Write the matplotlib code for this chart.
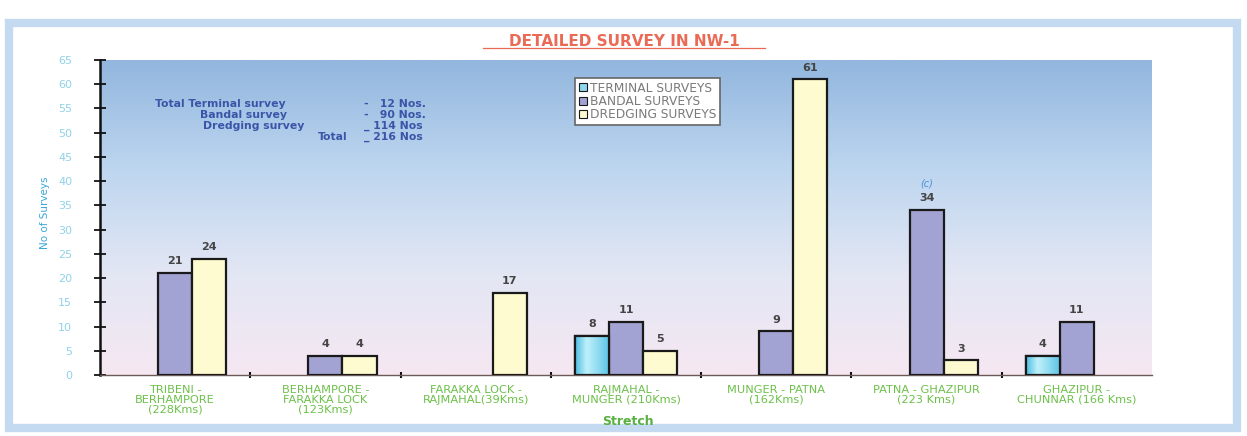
import matplotlib.pyplot as plt
import numpy as np
from matplotlib.colors import LinearSegmentedColormap
from matplotlib.patches import Rectangle

# survey counts per stretch
stretches = ['TRIBENI -\nBERHAMPORE\n(228Kms)',
             'BERHAMPORE -\nFARAKKA LOCK\n(123Kms)',
             'FARAKKA LOCK -\nRAJMAHAL(39Kms)',
             'RAJMAHAL -\nMUNGER (210Kms)',
             'MUNGER - PATNA\n(162Kms)',
             'PATNA - GHAZIPUR\n(223 Kms)',
             'GHAZIPUR -\nCHUNNAR (166 Kms)']
terminal = [0, 0, 0, 8, 0, 0, 4]
bandal = [21, 4, 0, 11, 9, 34, 11]
dredging = [24, 4, 17, 5, 61, 3, 0]

summary_names = ['Total Terminal survey', 'Bandal survey', 'Dredging survey', 'Total']
summary_vals = ['-   12 Nos.', '-   90 Nos.', '_ 114 Nos', '_ 216 Nos']

W, H = 1247, 436
fig = plt.figure(figsize=(W / 100, H / 100), dpi=100)
fig.patch.set_facecolor('white')

def fx(x):
    return x / W

def fy(y):
    return 1 - y / H

# light blue frame round the whole chart
frame = Rectangle((fx(9), fy(428)), fx(1237) - fx(9), fy(23) - fy(428),
                  transform=fig.transFigure, fill=False,
                  edgecolor='#c4daf1', linewidth=6, zorder=0)
fig.add_artist(frame)

ax = fig.add_axes([fx(100), fy(375), fx(1152) - fx(100), fy(60) - fy(375)])
ax.set_xlim(-0.5, len(stretches) - 0.5)
ax.set_ylim(0, 65)

# sky-like background gradient
bg = LinearSegmentedColormap.from_list('bg', ['#f6e8f2', '#e2e6f4', '#bcd5ef', '#92b6de'])
grad = np.linspace(0, 1, 256).reshape(-1, 1)
ax.imshow(grad, cmap=bg, origin='lower', aspect='auto',
          extent=[-0.5, len(stretches) - 0.5, 0, 65], zorder=0)

x = np.arange(len(stretches))
w = 0.227
cyl = LinearSegmentedColormap.from_list('cyl', ['#4fbfe2', '#bff0fb', '#8fdbf0', '#58c3e4'])
series = [(terminal, -w, '#8fd9ef', 'TERMINAL SURVEYS'),
          (bandal, 0, '#a3a3d3', 'BANDAL SURVEYS'),
          (dredging, w, '#fdfbcf', 'DREDGING SURVEYS')]

for vals, off, color, name in series:
    v = np.array(vals, dtype=float)
    hv = np.where(v > 0, v, np.nan)
    bars = ax.bar(x + off, hv, width=w, color=color, edgecolor='#1a1a1a',
                  linewidth=1.6, label=name, zorder=3)
    for rect, val in zip(bars, vals):
        if val <= 0:
            continue
        if name.startswith('TERMINAL'):
            # shaded cylinder look for the terminal bars, outline redrawn on top
            x0, bw = rect.get_x(), rect.get_width()
            im = ax.imshow(np.linspace(0, 1, 64).reshape(1, -1), cmap=cyl,
                           aspect='auto', zorder=3.5,
                           extent=[x0, x0 + bw, 0, val])
            im.set_clip_path(rect)
            ax.add_patch(Rectangle((x0, 0), bw, val, fill=False,
                                   edgecolor='#1a1a1a', linewidth=1.6, zorder=4))
        ax.text(rect.get_x() + rect.get_width() / 2, val + 1.4, str(val),
                ha='center', va='bottom', fontsize=8, color='#444444',
                fontweight='bold', family='DejaVu Sans', zorder=5)

ax.text(x[5], 38.4, '(c)', ha='center', va='bottom', fontsize=7,
        color='#4a90d9', style='italic', zorder=5)

for s in ['top', 'right']:
    ax.spines[s].set_visible(False)
ax.spines['left'].set_linewidth(1.8)
ax.spines['left'].set_color('#111111')
ax.spines['bottom'].set_linewidth(1.0)
ax.spines['bottom'].set_color('#6b5a55')

ax.set_yticks(np.arange(0, 66, 5))
ax.tick_params(axis='y', direction='inout', length=8, width=1.2,
               labelsize=8, labelcolor='#8fd2ea', pad=16)
ax.set_xticks(np.arange(-0.5, len(stretches), 1)[1:-1])
ax.set_xticklabels([])
ax.tick_params(axis='x', direction='inout', length=5, width=1.5, color='#111111')
for lab in ax.get_yticklabels():
    lab.set_family('DejaVu Sans')

for xi, lab in zip(x, stretches):
    ax.text(xi, -2.0, lab, ha='center', va='top', fontsize=8.2,
            color='#6cc04a', family='DejaVu Sans', linespacing=1.0)

fig.text(fx(628), fy(421), 'Stretch', ha='center', va='center',
         fontsize=9, fontweight='bold', color='#58b040', family='DejaVu Sans')
fig.text(fx(45), fy(213), 'No of Surveys', ha='center', va='center',
         rotation=90, fontsize=7.5, color='#3aa6dc', family='Liberation Sans Narrow')

fig.text(fx(624), fy(41), 'DETAILED SURVEY IN NW-1', ha='center', va='center',
         fontsize=11, fontweight='bold', color='#ea6a55', family='DejaVu Sans')
fig.add_artist(plt.Line2D([fx(483), fx(765)], [fy(48), fy(48)],
                          transform=fig.transFigure, color='#ea6a55', lw=0.9))

# summary block, two columns
name_x = [155, 200, 203, 318]
row_y = [104, 115, 126, 137]
for nm, vl, nx, ry in zip(summary_names, summary_vals, name_x, row_y):
    fig.text(fx(nx), fy(ry), nm, ha='left', va='center', fontsize=7.8,
             fontweight='bold', color='#3a55a8', family='DejaVu Sans')
    fig.text(fx(364), fy(ry), vl, ha='left', va='center', fontsize=7.8,
             fontweight='bold', color='#3a55a8', family='DejaVu Sans')

leg = ax.legend(loc='upper left', bbox_to_anchor=(fx(575), fy(78)),
                bbox_transform=fig.transFigure, frameon=True, fancybox=False,
                fontsize=8.8, handlelength=0.65, handleheight=0.65, handletextpad=0.3,
                labelspacing=0.02, borderpad=0.3, borderaxespad=0,
                labelcolor='#7a7a7a')
leg.get_frame().set_edgecolor('#666666')
leg.get_frame().set_linewidth(1.2)
leg.get_frame().set_facecolor('white')
leg.get_frame().set_alpha(1)
for t in leg.get_texts():
    t.set_family('DejaVu Sans')
for hnd in leg.legend_handles:
    hnd.set_linewidth(0.8)

fig.savefig('out.png', dpi=100, facecolor='white')
